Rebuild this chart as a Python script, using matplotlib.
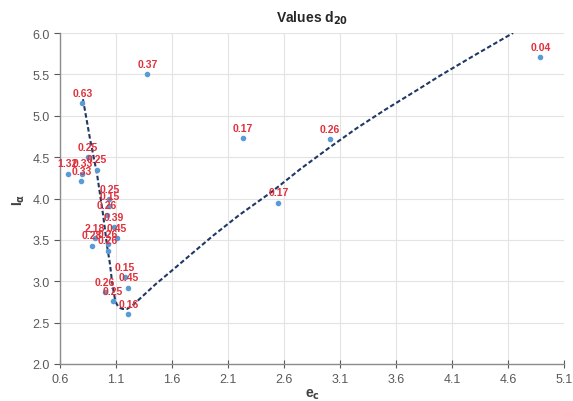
import matplotlib
matplotlib.use("Agg")
import matplotlib.pyplot as plt

plt.rcParams['font.family'] = ['Liberation Sans', 'DejaVu Sans']

# Scatter data (e_c, I_alpha) and point labels
e_c = [1.38, 0.80, 2.23, 3.01, 2.55, 4.89, 0.67, 0.79, 0.80, 0.85, 0.93,
       1.04, 1.04, 1.02, 1.08, 0.91, 1.11, 0.886, 1.03, 1.03,
       1.18, 1.21, 1.00, 1.07, 1.21]
I_a = [5.50, 5.15, 4.73, 4.72, 3.95, 5.71, 4.30, 4.21, 4.30, 4.50, 4.35,
       3.99, 3.91, 3.80, 3.65, 3.52, 3.52, 3.43, 3.45, 3.37,
       3.05, 2.92, 2.87, 2.76, 2.60]
labels = ["0.37", "0.63", "0.17", "0.26", "0.17", "0.04", "1.32", "0.33", "0.33", "0.25", "0.25",
          "0.25", "0.15", "0.26", "0.39", "2.18", "0.45", "0.28", "0.26", "0.26",
          "0.15", "0.45", "0.26", "0.25", "0.16"]

# Trend line
trend_x = [0.805, 0.868, 0.93, 0.984, 1.02, 1.046, 1.064, 1.078, 1.09, 1.104, 1.118, 1.14,
           1.16, 1.198, 1.25, 1.314, 1.45, 1.60, 1.80, 1.966, 2.2, 2.49, 2.75, 3.01,
           3.25, 3.5, 3.8, 4.0, 4.3, 4.645]
trend_y = [5.20, 4.72, 4.30, 3.81, 3.43, 3.21, 3.00, 2.88, 2.79, 2.73, 2.70, 2.675,
           2.665, 2.665, 2.71, 2.79, 2.96, 3.13, 3.36, 3.55, 3.80, 4.08, 4.36, 4.62,
           4.85, 5.07, 5.32, 5.49, 5.73, 6.00]

x_ticks = [0.6, 1.1, 1.6, 2.1, 2.6, 3.1, 3.6, 4.1, 4.6, 5.1]
y_ticks = [2.0, 2.5, 3.0, 3.5, 4.0, 4.5, 5.0, 5.5, 6.0]

fig = plt.figure(figsize=(5.73, 4.02), dpi=100)
ax = fig.add_axes([60/573, 37/402, 504/573, 331/402])

ax.plot(trend_x, trend_y, linestyle=(0, (2.2, 1.2)), color='#1F3864', linewidth=1.5, zorder=2)
ax.scatter(e_c, I_a, s=9, color='#5B9BD5', zorder=3)
for x, y, t in zip(e_c, I_a, labels):
    ax.annotate(t, (x, y), xytext=(0, 7.5), textcoords='offset points',
                ha='center', va='center', fontsize=7.5, fontweight='bold',
                color='#E0303A', zorder=4)

ax.set_xlim(0.6, 5.1)
ax.set_ylim(2.0, 6.0)
ax.set_xticks(x_ticks)
ax.set_yticks(y_ticks)
ax.set_xticklabels([f"{v:.1f}" for v in x_ticks])
ax.set_yticklabels([f"{v:.1f}" for v in y_ticks])
ax.tick_params(axis='both', labelsize=9, colors='#595959', length=4, width=0.8)
ax.tick_params(axis='x', direction='inout', length=6)
ax.grid(True, color='#E3E3E3', linewidth=0.8)
ax.set_axisbelow(True)
for s in ['top', 'right']:
    ax.spines[s].set_visible(False)
for s in ['left', 'bottom']:
    ax.spines[s].set_color('#8C8C8C')
    ax.spines[s].set_linewidth(1.0)

ax.set_title(r'Values d$_\mathbf{20}$', fontsize=10, fontweight='bold', color='#262626', pad=8)
ax.set_xlabel(r'e$_\mathbf{c}$', fontsize=10, fontweight='bold', color='#404040', labelpad=1)
ax.set_ylabel(r'I$_\mathbf{\alpha}$', fontsize=10, fontweight='bold', color='#404040', labelpad=4)

fig.savefig('out.png', dpi=100)
